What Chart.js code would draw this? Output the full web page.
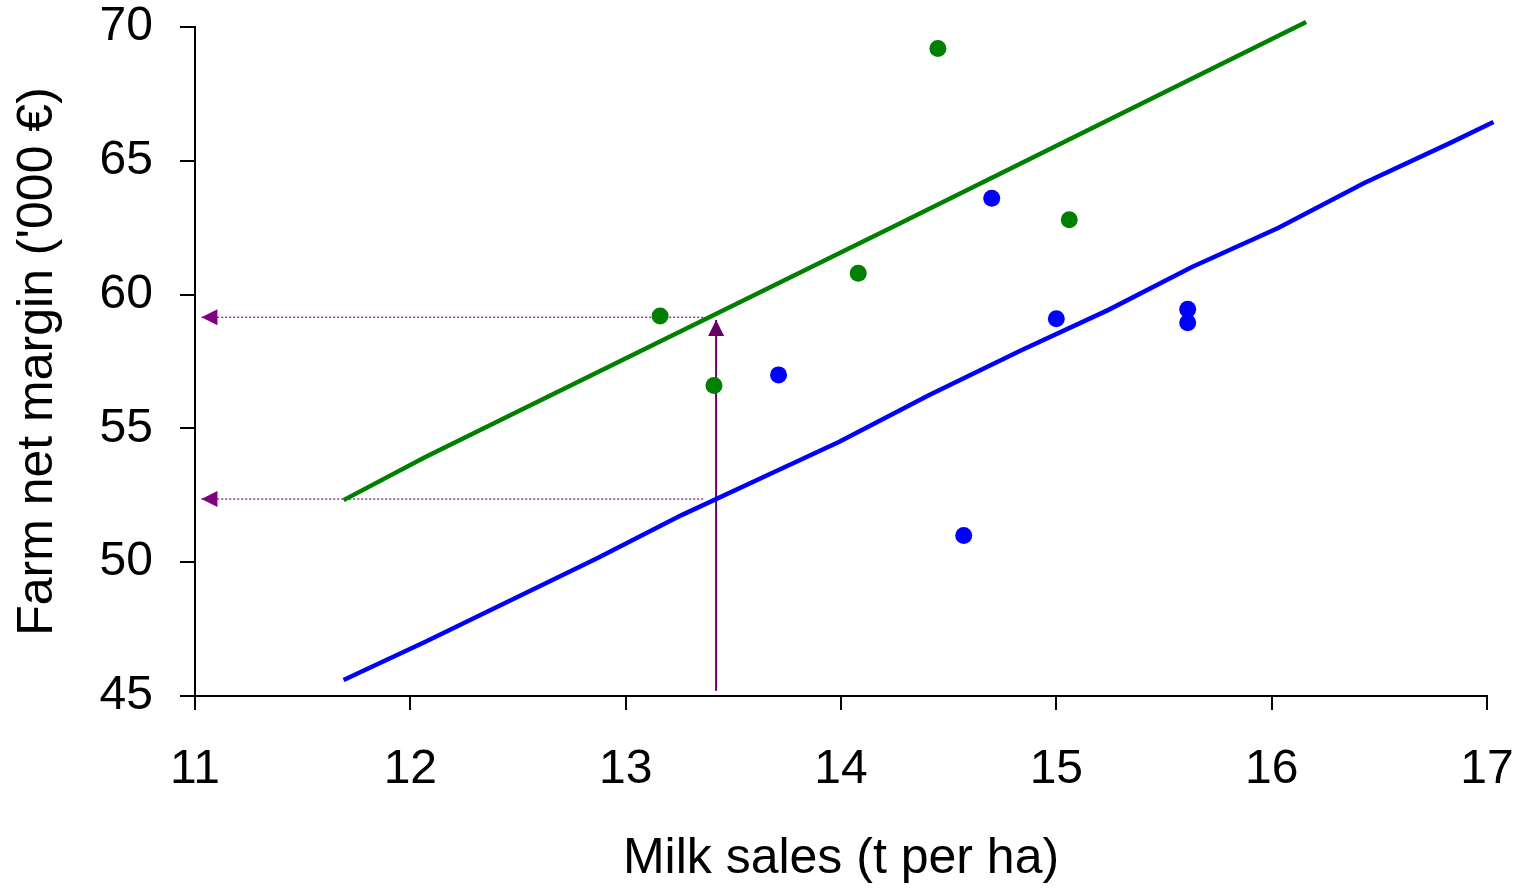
<!DOCTYPE html>
<html>
<head>
<meta charset="utf-8">
<script src="https://cdn.jsdelivr.net/npm/chart.js@4"></script>
<style>
  html, body { margin: 0; padding: 0; background: #fff; }
  #wrap { width: 1517px; height: 889px; position: relative; }
</style>
</head>
<body>
<div id="wrap"><canvas id="c"></canvas></div>
<script>
// ---- data ----
const xTicks = [11, 12, 13, 14, 15, 16, 17];
const yTicks = [45, 50, 55, 60, 65, 70];

const greenX = [13.16, 13.41, 14.08, 14.45, 15.06];
const greenY = [59.2, 56.6, 60.8, 69.2, 62.8];

const blueX = [13.71, 14.70, 15.00, 14.57, 15.61, 15.61];
const blueY = [57.0, 63.6, 59.1, 51.0, 59.45, 58.95];

const greenLineX = [11.69, 12.07, 14.27, 16.16];
const greenLineY = [52.32, 53.93, 62.65, 70.19];

const blueLineX = [11.69, 12.07, 12.87, 13.26, 13.69, 13.99, 14.41, 14.84, 15.24, 15.63, 16.03, 16.43, 16.83, 17.03];
const blueLineY = [45.60, 47.03, 50.16, 51.76, 53.37, 54.49, 56.25, 57.93, 59.42, 61.03, 62.49, 64.17, 65.67, 66.45];

// arrows: [fromX, fromY, toX, toY]
const upArrow = [13.42, 45.2, 13.42, 59.05];
const leftArrowTop = [13.36, 59.15, 11.03, 59.15];
const leftArrowBottom = [13.36, 52.36, 11.03, 52.36];

const zip = (xs, ys) => xs.map((x, i) => ({ x: x, y: ys[i] }));
const seg = a => [{ x: a[0], y: a[1] }, { x: a[2], y: a[3] }];

const FONT = "'Liberation Sans', Arial, sans-serif";

const arrowHeads = {
  id: 'arrowHeads',
  afterDatasetsDraw(chart) {
    const xs = chart.scales.x, ys = chart.scales.y, ctx = chart.ctx;
    const heads = [
      { a: upArrow, color: '#660066' },
      { a: leftArrowTop, color: '#800080' },
      { a: leftArrowBottom, color: '#800080' }
    ];
    heads.forEach(h => {
      const x0 = xs.getPixelForValue(h.a[0]), y0 = ys.getPixelForValue(h.a[1]);
      const x1 = xs.getPixelForValue(h.a[2]), y1 = ys.getPixelForValue(h.a[3]);
      const ang = Math.atan2(y1 - y0, x1 - x0);
      const len = 16, half = 8;
      ctx.save();
      ctx.translate(x1, y1);
      ctx.rotate(ang);
      ctx.beginPath();
      ctx.moveTo(0, 0);
      ctx.lineTo(-len, -half);
      ctx.lineTo(-len, half);
      ctx.closePath();
      ctx.fillStyle = h.color;
      ctx.fill();
      ctx.restore();
    });
  }
};

new Chart(document.getElementById('c'), {
  type: 'scatter',
  data: {
    datasets: [
      { label: 'dotted top', data: seg(leftArrowTop), showLine: true, pointRadius: 0,
        borderColor: '#993399', borderWidth: 1.5, borderDash: [2, 2], order: 5 },
      { label: 'dotted bottom', data: seg(leftArrowBottom), showLine: true, pointRadius: 0,
        borderColor: '#993399', borderWidth: 1.5, borderDash: [2, 2], order: 5 },
      { label: 'up arrow', data: seg(upArrow), showLine: true, pointRadius: 0,
        borderColor: '#660066', borderWidth: 2, order: 4 },
      { label: 'green trend', data: zip(greenLineX, greenLineY), showLine: true, pointRadius: 0,
        borderColor: '#008000', borderWidth: 4.5, tension: 0, clip: 10, order: 3 },
      { label: 'blue trend', data: zip(blueLineX, blueLineY), showLine: true, pointRadius: 0,
        borderColor: '#0000FF', borderWidth: 4.5, tension: 0, clip: 10, order: 3 },
      { label: 'green', data: zip(greenX, greenY), pointRadius: 8.5, pointBorderWidth: 0,
        backgroundColor: '#008000', borderColor: '#008000', order: 1 },
      { label: 'blue', data: zip(blueX, blueY), pointRadius: 8.5, pointBorderWidth: 0,
        backgroundColor: '#0000FF', borderColor: '#0000FF', order: 1 }
    ]
  },
  options: {
    responsive: true,
    maintainAspectRatio: false,
    animation: false,
    events: [],
    layout: { padding: { top: 27, right: 30, left: 0, bottom: 0 } },
    plugins: { legend: { display: false }, tooltip: { enabled: false } },
    scales: {
      x: {
        type: 'linear', min: 11, max: 17,
        afterBuildTicks: s => { s.ticks = xTicks.map(v => ({ value: v })); },
        afterFit: s => { s.height = 193; s.paddingLeft = 0; s.paddingRight = 0; },
        grid: { drawOnChartArea: false, drawTicks: true, tickLength: 14, color: '#000', lineWidth: 2 },
        border: { display: true, color: '#000', width: 2 },
        ticks: { color: '#000', padding: 31, maxRotation: 0, font: { family: FONT, size: 48 } },
        title: { display: true, text: 'Milk sales (t per ha)', color: '#000',
                 font: { family: FONT, size: 50 }, padding: { top: 0, bottom: 0 } }
      },
      y: {
        type: 'linear', min: 45, max: 70,
        afterBuildTicks: s => { s.ticks = yTicks.map(v => ({ value: v })); },
        afterFit: s => { s.width = 195; s.paddingTop = 0; s.paddingBottom = 0; },
        grid: { drawOnChartArea: false, drawTicks: true, tickLength: 15, color: '#000', lineWidth: 2 },
        border: { display: true, color: '#000', width: 2 },
        ticks: { color: '#000', padding: 27, font: { family: FONT, size: 48 } },
        title: { display: true, text: "Farm net margin ('000 €)", color: '#000',
                 font: { family: FONT, size: 50 }, padding: { top: 8, bottom: 0 } }
      }
    }
  },
  plugins: [arrowHeads]
});
</script>
</body>
</html>
